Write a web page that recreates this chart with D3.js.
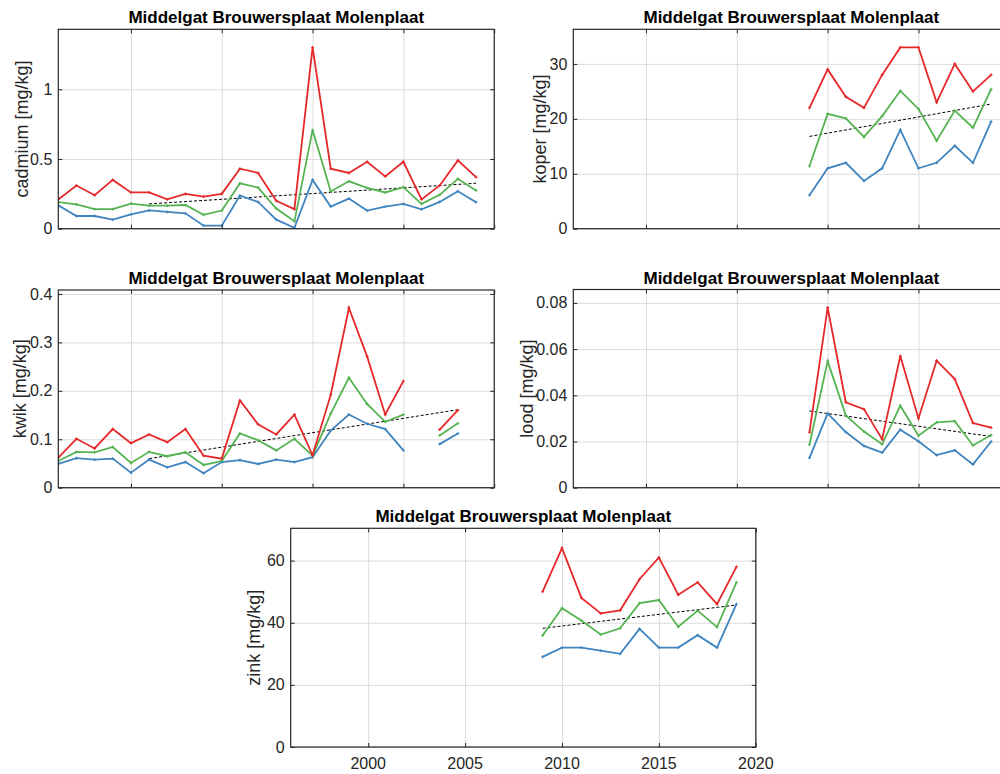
<!DOCTYPE html>
<html><head><meta charset="utf-8">
<script src="https://cdn.jsdelivr.net/npm/d3@7"></script>
<style>
body{margin:0;background:#fff;}
svg{display:block;font-family:"Liberation Sans",Arial,Helvetica,sans-serif;}
</style></head>
<body><svg id="c" width="1000" height="774"></svg>
<script>
const title = "Middelgat Brouwersplaat Molenplaat";
const xTicks = [2000, 2005, 2010, 2015, 2020];
const yearsLong = d3.range(1996, 2020);   // 1996..2019
const yearsShort = d3.range(2009, 2020);  // 2009..2019

// cadmium
const cadmiumMax = [0.21,0.31,0.24,0.35,0.26,0.26,0.21,0.25,0.23,0.25,0.43,0.40,0.20,0.14,1.30,0.43,0.40,0.48,0.375,0.48,0.21,0.31,0.49,0.37];
const cadmiumMean = [0.19,0.175,0.14,0.14,0.18,0.165,0.165,0.17,0.10,0.13,0.325,0.295,0.145,0.053,0.707,0.267,0.34,0.293,0.26,0.298,0.178,0.243,0.358,0.274];
const cadmiumMin = [0.168,0.091,0.091,0.065,0.103,0.132,0.12,0.11,0.022,0.022,0.238,0.192,0.065,0.007,0.35,0.159,0.216,0.13,0.159,0.178,0.139,0.192,0.269,0.19];
const cadmiumTrend = [[2001,0.178],[2019,0.326]];
const cadmiumTicks = [0,0.5,1];

// koper
const koperMax = [22,29,24,22,28,33,33,23,30,25,28];
const koperMean = [11.4,20.9,20.1,16.7,20.5,25.1,21.8,16.0,21.5,18.4,25.4];
const koperMin = [6.1,11.0,12.0,8.7,11.0,18.0,11.0,12.0,15.1,12.0,19.5];
const koperTrend = [[2009,16.8],[2019,22.7]];
const koperTicks = [0,10,20,30];

// kwik (no sample in 2016)
const kwikMax = [0.062,0.101,0.081,0.121,0.092,0.110,0.094,0.121,0.066,0.060,0.180,0.131,0.110,0.151,0.067,0.192,0.371,0.271,0.151,0.220,null,0.120,0.160,null];
const kwikMean = [0.055,0.074,0.073,0.084,0.051,0.074,0.065,0.073,0.047,0.055,0.112,0.098,0.077,0.101,0.066,0.153,0.227,0.173,0.136,0.151,null,0.108,0.133,null];
const kwikMin = [0.049,0.061,0.058,0.060,0.031,0.058,0.042,0.053,0.030,0.053,0.057,0.049,0.058,0.053,0.063,0.118,0.151,0.132,0.121,0.077,null,0.090,0.112,null];
const kwikTrend = [[2001,0.060],[2018,0.161]];
const kwikTicks = [0,0.1,0.2,0.3,0.4];

// lood
const loodMax = [0.024,0.078,0.037,0.034,0.021,0.057,0.030,0.055,0.047,0.028,0.026];
const loodMean = [0.0186,0.0548,0.0313,0.0243,0.0188,0.0355,0.0225,0.0283,0.0288,0.0183,0.0228];
const loodMin = [0.0129,0.0322,0.0241,0.0181,0.0152,0.0251,0.0201,0.0141,0.0162,0.0101,0.020];
const loodTrend = [[2009,0.0332],[2019,0.0222]];
const loodTicks = [0,0.02,0.04,0.06,0.08];

// zink
const zinkMax = [50,64,48,43,44,54,61,49,53,46,58];
const zinkMean = [35.9,44.7,40.7,36.2,38.2,46.3,47.3,38.7,43.9,38.6,53.0];
const zinkMin = [29,32,32,31,30,38,32,32,36,32,46];
const zinkTrend = [[2009,38.2],[2019,45.7]];
const zinkTicks = [0,20,40,60];

const colors = {max:"#e6282a", mean:"#55b352", min:"#3f84bf"};

const panels = [
  {label:"cadmium [mg/kg]", years:yearsLong, max:cadmiumMax, mean:cadmiumMean, min:cadmiumMin, trend:cadmiumTrend, ticks:cadmiumTicks, fmt:d=>d===0?"0":String(d),
   x0:58.3, x1:494.2, y0:29.3, y1:228.7, labX:22, xlabels:false},
  {label:"koper [mg/kg]", years:yearsShort, max:koperMax, mean:koperMean, min:koperMin, trend:koperTrend, ticks:koperTicks, fmt:String,
   x0:573.3, x1:1009.3, y0:29.3, y1:228.7, labX:540, xlabels:false},
  {label:"kwik [mg/kg]", years:yearsLong, max:kwikMax, mean:kwikMean, min:kwikMin, trend:kwikTrend, ticks:kwikTicks, fmt:d=>d===0?"0":String(d),
   x0:58.3, x1:494.2, y0:290, y1:487.7, labX:20, xlabels:false},
  {label:"lood [mg/kg]", years:yearsShort, max:loodMax, mean:loodMean, min:loodMin, trend:loodTrend, ticks:loodTicks, fmt:d=>d===0?"0":d.toFixed(2),
   x0:573.3, x1:1009.3, y0:289.5, y1:487.7, labX:527, xlabels:false},
  {label:"zink [mg/kg]", years:yearsShort, max:zinkMax, mean:zinkMean, min:zinkMin, trend:zinkTrend, ticks:zinkTicks, fmt:String,
   x0:290.7, x1:755.8, y0:528.3, y1:747, labX:254, xlabels:true}
];

const svg = d3.select("#c");
const axisCol = "#262626";
const gridCol = "#dcdcdc";

panels.forEach(p => {
  const allVals = [].concat(p.max, p.mean, p.min).filter(v => v != null);
  const ymax = d3.max(allVals) * 1.1;
  const x = d3.scaleLinear().domain([1996, 2020]).range([p.x0, p.x1]);
  const y = d3.scaleLinear().domain([0, ymax]).range([p.y1, p.y0]);
  const g = svg.append("g");
  const w = p.x1 - p.x0, h = p.y1 - p.y0;

  // grid
  g.append("g").attr("transform", `translate(0,${p.y1})`)
    .call(d3.axisBottom(x).tickValues(xTicks).tickSize(-h).tickFormat(""))
    .call(a => { a.select(".domain").remove(); a.selectAll("line").attr("stroke", gridCol).attr("stroke-width", 1); });
  g.append("g").attr("transform", `translate(${p.x0},0)`)
    .call(d3.axisLeft(y).tickValues(p.ticks).tickSize(-w).tickFormat(""))
    .call(a => { a.select(".domain").remove(); a.selectAll("line").attr("stroke", gridCol).attr("stroke-width", 1); });

  // trend
  g.append("path").datum(p.trend)
    .attr("d", d3.line().x(d => x(d[0])).y(d => y(d[1])))
    .attr("fill", "none").attr("stroke", "#000").attr("stroke-width", 1)
    .attr("stroke-dasharray", "3,2");

  // series
  const clipId = "clip" + p.label.split(" ")[0];
  svg.append("clipPath").attr("id", clipId).append("rect")
    .attr("x", p.x0).attr("y", p.y0 - 3).attr("width", w).attr("height", h + 3);
  const sg = g.append("g").attr("clip-path", `url(#${clipId})`);
  [["min", p.min], ["mean", p.mean], ["max", p.max]].forEach(([k, vals]) => {
    const pts = p.years.map((yr, i) => [yr, vals[i]]);
    sg.append("path").datum(pts)
      .attr("d", d3.line().defined(d => d[1] != null).x(d => x(d[0])).y(d => y(d[1])))
      .attr("fill", "none").attr("stroke", colors[k]).attr("stroke-width", 1.8)
      .attr("stroke-linejoin", "miter");
    sg.selectAll(null).data(pts.filter(d => d[1] != null)).enter().append("path")
      .attr("d", d => `M${x(d[0])-1.5},${y(d[1])}h3M${x(d[0])},${y(d[1])-1.5}v3`)
      .attr("stroke", colors[k]).attr("stroke-width", 1);
  });

  // axes with inward ticks
  const ax = g.append("g").attr("transform", `translate(0,${p.y1})`)
    .call(d3.axisTop(x).tickValues(xTicks).tickSize(4).tickFormat(""));
  const ayL = g.append("g").attr("transform", `translate(${p.x0},0)`)
    .call(d3.axisRight(y).tickValues(p.ticks).tickSize(4).tickFormat(""));
  const axT = g.append("g").attr("transform", `translate(0,${p.y0})`)
    .call(d3.axisBottom(x).tickValues(xTicks).tickSize(4).tickFormat(""));
  const ayR = g.append("g").attr("transform", `translate(${p.x1},0)`)
    .call(d3.axisLeft(y).tickValues(p.ticks).tickSize(4).tickFormat(""));
  [ax, ayL, axT, ayR].forEach(a => {
    a.select(".domain").remove();
    a.selectAll(".tick line").attr("stroke", axisCol).attr("stroke-width", 1);
  });
  g.append("rect").attr("x", p.x0).attr("y", p.y0).attr("width", w).attr("height", h)
    .attr("fill", "none").attr("stroke", axisCol).attr("stroke-width", 1.2);

  // y tick labels
  g.selectAll(null).data(p.ticks).enter().append("text")
    .attr("x", p.x0 - 6).attr("y", d => y(d)).attr("dy", "0.35em")
    .attr("text-anchor", "end").attr("font-size", 16).attr("fill", axisCol)
    .text(p.fmt);

  // x tick labels
  if (p.xlabels) {
    g.selectAll(null).data(xTicks).enter().append("text")
      .attr("x", d => x(d)).attr("y", p.y1 + 22)
      .attr("text-anchor", "middle").attr("font-size", 16).attr("fill", axisCol)
      .text(d => d);
  }

  // y label
  g.append("text")
    .attr("transform", `translate(${p.labX},${(p.y0 + p.y1) / 2}) rotate(-90)`)
    .attr("dy", "0.35em").attr("text-anchor", "middle")
    .attr("font-size", 18).attr("fill", axisCol).text(p.label);

  // title
  g.append("text").attr("x", (p.x0 + p.x1) / 2).attr("y", p.y0 - 6)
    .attr("text-anchor", "middle").attr("font-size", 17).attr("font-weight", "bold")
    .attr("fill", "#000").text(title);
});
</script></body></html>
